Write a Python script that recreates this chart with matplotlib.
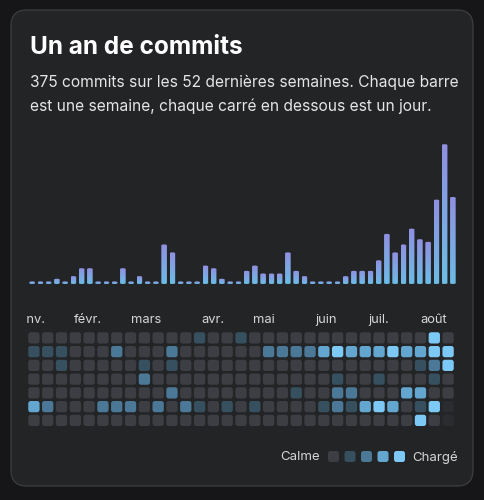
import matplotlib
matplotlib.use("Agg")
import matplotlib.pyplot as plt
from matplotlib.patches import FancyBboxPatch
from matplotlib.colors import LinearSegmentedColormap
import numpy as np

plt.rcParams['font.family'] = ['Inter', 'DejaVu Sans']

weekly = [1,1,1,2,1,3,6,6,1,1,1,6,1,3,1,1,15,12,1,1,1,7,6,2,1,1,5,7,4,4,4,12,5,3,1,1,1,1,3,5,5,5,9,19,12,15,21,17,16,32,53,33]
months = ["janv.", "févr.", "mars", "avr.", "mai", "juin", "juil.", "août"]
month_x = [-1.3, 2.9, 7.0, 12.1, 15.9, 20.4, 24.2, 28.0]
# heat levels: rows = weekdays, cols = last 31 weeks; -1 = future
heat = [
 [0,0,0,0,0,0,0,0,0,0,0,0,1,0,0,1,0,0,0,0,0,0,0,0,0,0,0,0,0,4,0],
 [1,1,1,0,0,0,2,0,0,0,2,0,0,0,0,0,0,2,2,2,2,3,4,3,3,3,4,3,3,4,4],
 [0,0,1,0,0,0,0,0,1,0,1,0,0,0,0,0,0,0,0,0,0,0,0,0,0,0,0,0,1,2,4],
 [0,0,0,0,0,0,0,0,2,0,0,0,0,0,0,0,0,0,0,0,0,0,1,0,0,1,0,0,0,1,0],
 [0,0,0,0,0,0,0,0,0,0,2,0,0,0,0,0,0,0,0,1,0,0,2,2,0,0,0,3,3,0,0],
 [3,2,0,0,0,2,2,2,0,2,0,2,1,0,1,0,1,0,0,0,0,1,2,1,3,4,3,0,1,4,-1],
 [0,0,0,0,0,0,0,0,0,0,0,0,0,0,0,0,0,0,0,0,0,0,0,0,0,0,0,0,4,0,-1],
]
level_colors = {-1: "#2b2c2f", 0: "#3d3e43", 1: "#36505f", 2: "#4b7896", 3: "#63a6d0", 4: "#7dc9f6"}

W, H = 484, 500
fig = plt.figure(figsize=(W/100, H/100), dpi=100)
fig.patch.set_facecolor("#161618")

def box(x0, y0, x1, y1):
    return [x0/W, 1-y1/H, (x1-x0)/W, (y1-y0)/H]

bg = fig.add_axes([0, 0, 1, 1]); bg.set_axis_off()
bg.set_xlim(0, W); bg.set_ylim(H, 0)
bg.add_patch(FancyBboxPatch((11, 10), 462, 476, boxstyle="round,pad=0,rounding_size=16",
                            fc="#232426", ec="#3a3b3e", lw=1))
bg.text(30, 47, "Un an de commits", color="white", fontsize=17.6, fontweight="bold", va="center")
bg.text(30, 82, "375 commits sur les 52 dernières semaines. Chaque barre", color="#e6e6e6", fontsize=11.2, va="center")
bg.text(30, 106, "est une semaine, chaque carré en dessous est un jour.", color="#e6e6e6", fontsize=11.2, va="center")

# bars
ax = fig.add_axes(box(28, 140, 457, 284)); ax.set_axis_off()
n = len(weekly)
ymax = max(weekly)*1.03
ax.set_xlim(-0.5, n-0.5); ax.set_ylim(0, ymax)
grad = np.linspace(0, 1, 256).reshape(-1, 1)
cmap = LinearSegmentedColormap.from_list("g", ["#6cbce6", "#9090e2"])
for i, v in enumerate(weekly):
    bw = 0.68
    h = max(v, 0.9)
    p = FancyBboxPatch((i-bw/2, 0), bw, h, boxstyle="round,pad=0,rounding_size=0.34",
                       mutation_aspect=ymax/55, fc="none", ec="none")
    ax.add_patch(p)
    im = ax.imshow(grad, extent=(i-bw/2, i+bw/2, 0, h), origin="lower", cmap=cmap,
                   vmin=0, vmax=1, aspect="auto", zorder=2)
    im.set_clip_path(p)
ax.set_xlim(-0.5, n-0.5); ax.set_ylim(0, ymax)

# heatmap
x0, x1 = 27, 455
pitch = 13.75
top = 310
hax = fig.add_axes(box(x0, top, x1, 331 + 7*pitch)); hax.set_axis_off()
ncol = len(heat[0])
hax.set_xlim(-0.5, ncol-0.5); hax.set_ylim(6.5, -0.5 - (331-top)/pitch)
for m, x in zip(months, month_x):
    hax.text(x, -1.3, m, color="#d6d6d6", fontsize=9.3, ha="left", va="center", clip_on=True)
for r, row in enumerate(heat):
    for c, lv in enumerate(row):
        hax.add_patch(FancyBboxPatch((c-0.41, r-0.41), 0.82, 0.82, boxstyle="round,pad=0,rounding_size=0.18",
                                     fc=level_colors[lv], ec="none"))

# legend
bg.text(320, 457, "Calme", color="#d6d6d6", fontsize=9.5, ha="right", va="center")
for k in range(5):
    bg.add_patch(FancyBboxPatch((328+k*16.5, 451), 11, 11, boxstyle="round,pad=0,rounding_size=2.5",
                                fc=level_colors[k], ec="none"))
bg.text(412, 457, "Chargé", color="#d6d6d6", fontsize=9.5, ha="left", va="center")

fig.savefig("out.png", dpi=100, facecolor=fig.get_facecolor())
